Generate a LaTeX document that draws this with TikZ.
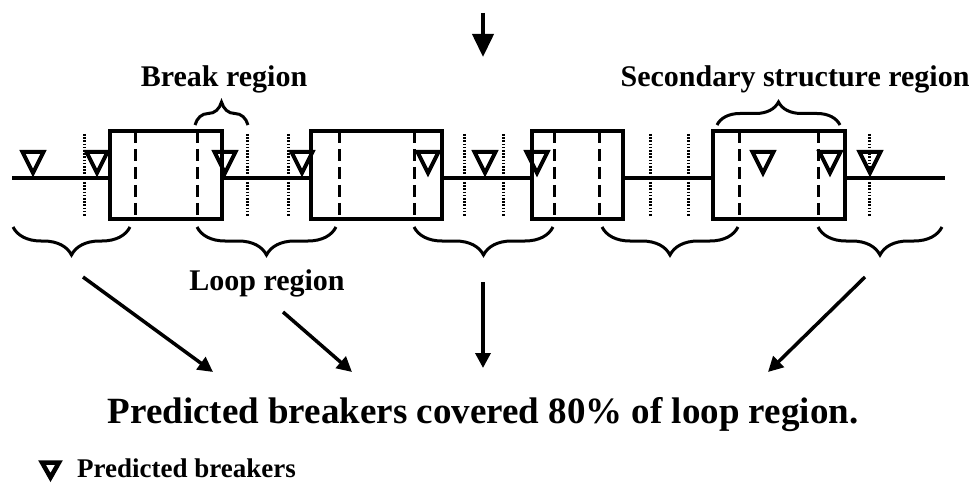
\documentclass[tikz,border=0pt]{standalone}
\usepackage{fontspec}
\setmainfont{Liberation Serif}
\usetikzlibrary{arrows.meta,decorations.pathreplacing}
\begin{document}
\begin{tikzpicture}[x=1pt,y=-1pt,
  seqbox/.style={draw,line width=4pt,fill=white},
  strand/.style={line width=4pt},
  dashsep/.style={line width=3pt,dash pattern=on 12pt off 6pt},
  dotsep/.style={line width=3pt,dash pattern=on 1.6pt off 1.6pt},
  topbrace/.style={decorate,decoration={brace,amplitude=23pt},line width=3pt},
  botbrace/.style={decorate,decoration={brace,amplitude=28pt},line width=3pt},
  lbl/.style={font=\bfseries\fontsize{30pt}{36pt}\selectfont,anchor=base,inner sep=0pt},
  bigtxt/.style={font=\bfseries\fontsize{37pt}{44pt}\selectfont,anchor=base,inner sep=0pt},
  legtxt/.style={font=\bfseries\fontsize{27pt}{32pt}\selectfont,anchor=base west,inner sep=0pt},
  arr/.style={line width=3.5pt,-{Triangle[width=15pt,length=15pt]}},
  bigarr/.style={line width=4pt,-{Triangle[width=21pt,length=23pt]}},
  breaker/.pic={\draw[line width=4pt,line join=miter] (-10.5,-26) -- (10.5,-26) -- (0,-5) -- cycle;}
]
\useasboundingbox (0,0) rectangle (978,484);

% top arrow
\coordinate (ts) at (483,13);
\coordinate (te) at (483,57);
\draw[bigarr] (ts) -- (te);

% main strand
\coordinate (s0) at (12,178);
\coordinate (s1) at (945,178);
\draw[strand] (s0) -- (s1);

% dotted separators
\foreach \x in {84,247,288,464,503,650,688,869}
  \draw[dotsep] (\x,134) -- (\x,217);

% boxes
\node[seqbox,minimum width=112pt,minimum height=88pt,inner sep=0pt] (b1) at (166,175) {};
\node[seqbox,minimum width=131pt,minimum height=88pt,inner sep=0pt] (b2) at (376.5,175) {};
\node[seqbox,minimum width=91pt,minimum height=88pt,inner sep=0pt] (b3) at (577.5,175) {};
\node[seqbox,minimum width=132pt,minimum height=88pt,inner sep=0pt] (b4) at (779,175) {};

% dashed lines in boxes
\foreach \x in {135,197,339,414,554,599,739,818}
  \draw[dashsep] (\x,131) -- (\x,219);

% breakers
\foreach \x in {33,97,225,302,428,485,537,763,830,870}
  \pic at (\x,178) {breaker};

% top braces
\coordinate (br1a) at (195,125);
\coordinate (br1b) at (248,125);
\draw[topbrace] (br1a) -- (br1b);
\coordinate (br2a) at (717,125);
\coordinate (br2b) at (840,125);
\draw[topbrace] (br2a) -- (br2b);

% bottom braces
\coordinate (l1a) at (13,227);   \coordinate (l1b) at (130,227);
\coordinate (l2a) at (197,227);  \coordinate (l2b) at (336,227);
\coordinate (l3a) at (414,227);  \coordinate (l3b) at (553,227);
\coordinate (l4a) at (602,227);  \coordinate (l4b) at (738,227);
\coordinate (l5a) at (818,227);  \coordinate (l5b) at (942,227);
\draw[botbrace] (l1b) -- (l1a);
\draw[botbrace] (l2b) -- (l2a);
\draw[botbrace] (l3b) -- (l3a);
\draw[botbrace] (l4b) -- (l4a);
\draw[botbrace] (l5b) -- (l5a);

% labels
\node[lbl] (breaklbl) at (224,87) {Break region};
\node[lbl] (seclbl) at (795,87) {Secondary structure region};
\node[lbl] (looplbl) at (267,290) {Loop region};
\node[bigtxt] (summary) at (483,423) {Predicted breakers covered 80\% of loop region.};

% arrows
\coordinate (a1s) at (83,277);  \coordinate (a1e) at (213,372);
\coordinate (a2s) at (283,312); \coordinate (a2e) at (352,372);
\coordinate (a3s) at (483,282); \coordinate (a3e) at (483,368);
\coordinate (a4s) at (865,277); \coordinate (a4e) at (768,372);
\draw[arr] (a1s) -- (a1e);
\draw[arr] (a2s) -- (a2e);
\draw[arr] (a3s) -- (a3e);
\draw[arr] (a4s) -- (a4e);

% legend
\draw[line width=4.5pt,line join=miter] (42,462.5) -- (59,462.5) -- (50.5,477.5) -- cycle;
\node[legtxt] (legend) at (77,477) {Predicted breakers};
\end{tikzpicture}
\end{document}
